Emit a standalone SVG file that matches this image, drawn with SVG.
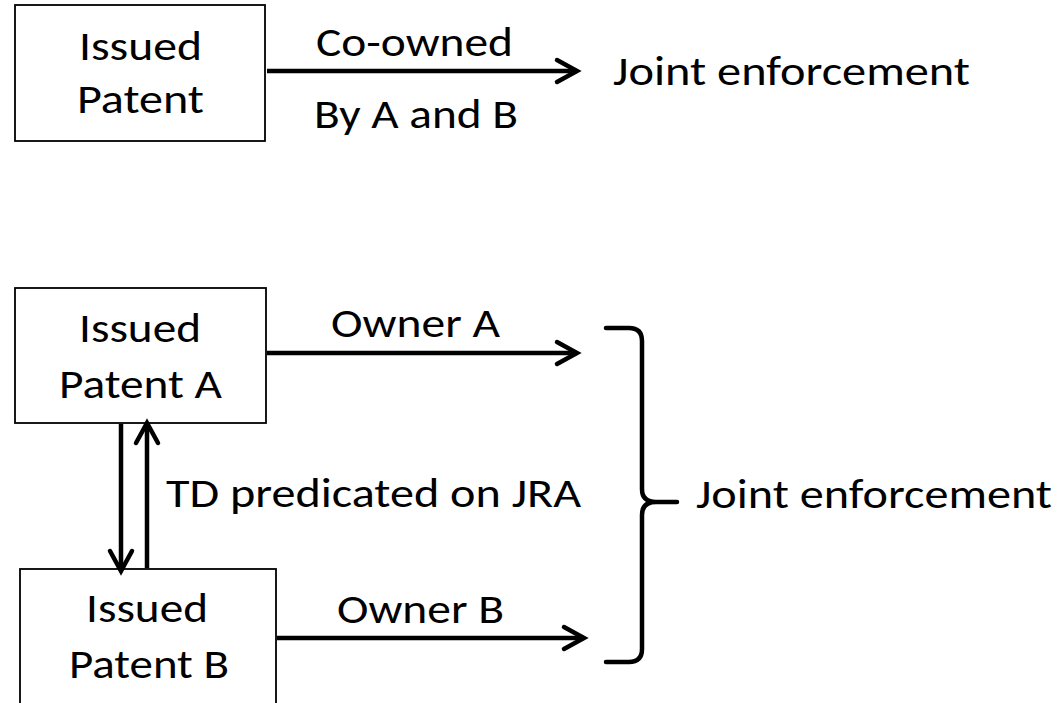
<svg xmlns="http://www.w3.org/2000/svg" width="1064" height="703" viewBox="0 0 1064 703">
<style>
.box{fill:#fff;stroke:#000;stroke-width:1.8}
.t{font-family:Carlito,Calibri,Lato,"Liberation Sans",sans-serif;font-size:40px;fill:#000}
.arr{stroke:#000;stroke-width:4.5;fill:none;marker-end:url(#ah)}
.br{stroke:#000;stroke-width:4.5;fill:none;stroke-linecap:round;stroke-linejoin:round}
</style>
<defs>
<marker id="ah" markerUnits="userSpaceOnUse" markerWidth="30" markerHeight="30" viewBox="-26 -15 30 30" refX="0" refY="0" orient="auto" overflow="visible">
<path d="M-20,-11 L0,0 L-20,11" fill="none" stroke="#000" stroke-width="4.5" stroke-linecap="round" stroke-linejoin="miter"/>
</marker>
</defs>
<rect width="1064" height="703" fill="#fff"/>
<g id="patent1">
<rect class="box" x="15" y="5" width="250" height="136"/>
<text class="t" x="79" y="60" textLength="123" lengthAdjust="spacingAndGlyphs">Issued</text>
<text class="t" x="77" y="113" textLength="127" lengthAdjust="spacingAndGlyphs">Patent</text>
</g>
<g id="joint1">
<text class="t" x="613" y="85" textLength="357" lengthAdjust="spacingAndGlyphs">Joint enforcement</text>
</g>
<g id="patentA">
<rect class="box" x="15" y="288" width="251" height="135"/>
<text class="t" x="79" y="342" textLength="122" lengthAdjust="spacingAndGlyphs">Issued</text>
<text class="t" x="59" y="398" textLength="163" lengthAdjust="spacingAndGlyphs">Patent A</text>
</g>
<g id="patentB">
<rect class="box" x="20" y="569" width="256" height="200"/>
<text class="t" x="86" y="622" textLength="122" lengthAdjust="spacingAndGlyphs">Issued</text>
<text class="t" x="69" y="678" textLength="160" lengthAdjust="spacingAndGlyphs">Patent B</text>
</g>
<g id="joint2">
<text class="t" x="696" y="508" textLength="356" lengthAdjust="spacingAndGlyphs">Joint enforcement</text>
</g>
<g id="connectors">
<line class="arr" x1="267" y1="71" x2="577" y2="71"/>
<text class="t" x="316" y="56" textLength="197" lengthAdjust="spacingAndGlyphs">Co-owned</text>
<text class="t" x="314" y="128" textLength="204" lengthAdjust="spacingAndGlyphs">By A and B</text>
<line class="arr" x1="267" y1="353" x2="577" y2="353"/>
<text class="t" x="331" y="337" textLength="169" lengthAdjust="spacingAndGlyphs">Owner A</text>
<line class="arr" x1="277" y1="638" x2="584" y2="638"/>
<text class="t" x="337" y="623" textLength="167" lengthAdjust="spacingAndGlyphs">Owner B</text>
<line class="arr" x1="121" y1="424" x2="121" y2="571"/>
<line class="arr" x1="147" y1="568" x2="147" y2="423"/>
<text class="t" x="166" y="507" textLength="415" lengthAdjust="spacingAndGlyphs">TD predicated on JRA</text>
<path class="br" d="M606,328 H629 Q642,328 642,341 V489 Q642,502 656,502 H677 M656,502 Q642,502 642,515 V649 Q642,662 629,662 H606"/>
</g>
</svg>
